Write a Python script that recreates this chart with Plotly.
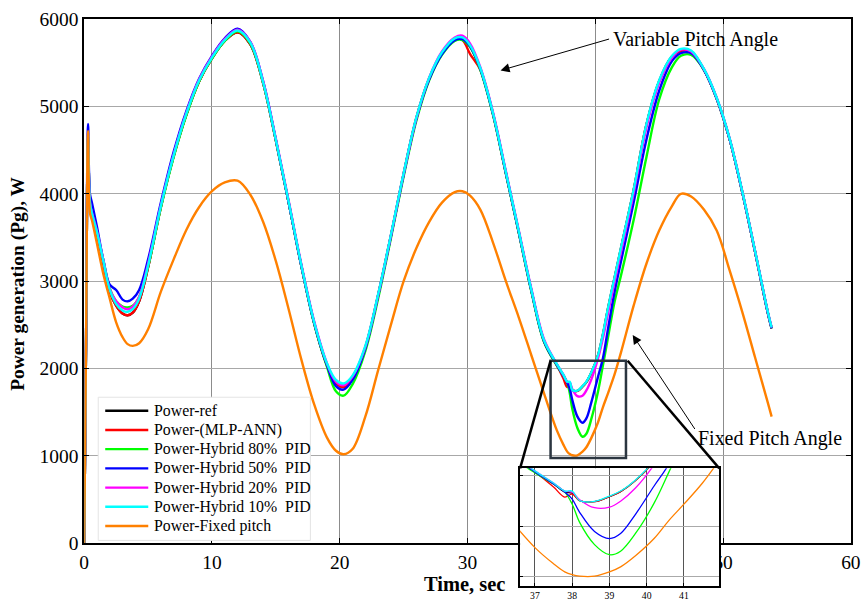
import plotly.graph_objects as go

# Time axis (s) shared by all series
time_s = [0, 0.15, 0.3, 0.45, 0.6, 1.0, 1.5, 2.0, 2.5, 3.0,
          3.4, 3.8, 4.3, 5, 6, 7, 8, 9, 10, 11,
          12, 13, 14, 15, 16, 17, 18, 19, 19.7, 20.3,
          21, 22, 23, 24, 25, 26, 27, 28, 29, 29.6,
          30.2, 31, 32, 33, 34, 35, 36, 37, 37.5, 37.8,
          38.0, 38.2, 38.6, 39.0, 39.3, 39.7, 40.2, 40.6, 41.0, 41.5,
          42, 43, 44, 45, 46, 46.7, 47.5, 48.5, 49.5, 50.5,
          51.5, 52.5, 53.5, 53.8]

# Generated power (W)
power_ref = [0, 2400, 4650, 3880, 3760, 3550, 3210, 2880, 2720, 2630,
             2610, 2640, 2770, 3160, 3850, 4430, 4910, 5290, 5550, 5750,
             5850, 5710, 5270, 4610, 3900, 3170, 2520, 2040, 1840, 1790,
             1890, 2240, 2840, 3520, 4230, 4870, 5320, 5610, 5770, 5770,
             5690, 5430, 4910, 4240, 3570, 2890, 2310, 2040, 1920, 1840,
             1830, 1755, 1745, 1795, 1845, 1955, 2145, 2390, 2690, 3030,
             3370, 4040, 4790, 5290, 5570, 5640, 5630, 5420, 5090, 4630,
             4020, 3340, 2640, 2460]

power_mlp_ann = [0, 2400, 4650, 3880, 3760, 3550, 3210, 2880, 2720, 2630,
                 2610, 2640, 2770, 3160, 3850, 4430, 4910, 5290, 5550, 5750,
                 5850, 5710, 5270, 4610, 3900, 3170, 2520, 2040, 1840, 1790,
                 1890, 2240, 2840, 3520, 4230, 4870, 5320, 5610, 5770, 5760,
                 5600, 5420, 4910, 4240, 3570, 2890, 2310, 2040, 1890, 1790,
                 1820, 1755, 1745, 1795, 1845, 1955, 2145, 2390, 2690, 3030,
                 3370, 4040, 4790, 5290, 5570, 5640, 5630, 5420, 5090, 4630,
                 4020, 3340, 2640, 2460]

power_hybrid_80 = [0, 2400, 4650, 3880, 3760, 3560, 3240, 2920, 2770, 2710,
                   2700, 2720, 2820, 3170, 3840, 4420, 4900, 5290, 5550, 5750,
                   5860, 5720, 5270, 4610, 3900, 3170, 2510, 2020, 1740, 1690,
                   1820, 2200, 2800, 3490, 4200, 4840, 5300, 5590, 5750, 5760,
                   5680, 5420, 4900, 4230, 3560, 2880, 2300, 2030, 1920, 1840,
                   1720, 1540, 1320, 1220, 1255, 1430, 1730, 2040, 2360, 2760,
                   3060, 3700, 4420, 5080, 5450, 5580, 5590, 5420, 5090, 4630,
                   4020, 3340, 2640, 2460]

power_hybrid_50 = [0, 2450, 4800, 4000, 3900, 3620, 3240, 2960, 2900, 2790,
                   2770, 2800, 2900, 3250, 3900, 4480, 4950, 5320, 5580, 5780,
                   5890, 5740, 5290, 4620, 3900, 3170, 2520, 2040, 1800, 1760,
                   1870, 2230, 2830, 3510, 4220, 4860, 5310, 5600, 5760, 5770,
                   5690, 5430, 4910, 4240, 3570, 2890, 2310, 2040, 1920, 1840,
                   1770, 1640, 1450, 1380, 1430, 1620, 1900, 2120, 2460, 2870,
                   3220, 3900, 4620, 5180, 5520, 5610, 5610, 5420, 5090, 4630,
                   4020, 3340, 2640, 2460]

power_hybrid_20 = [0, 2400, 4700, 3900, 3790, 3570, 3240, 2910, 2770, 2700,
                   2680, 2710, 2820, 3200, 3870, 4450, 4930, 5310, 5570, 5770,
                   5880, 5740, 5290, 4630, 3920, 3190, 2540, 2060, 1850, 1810,
                   1910, 2250, 2840, 3520, 4230, 4870, 5330, 5630, 5790, 5810,
                   5720, 5450, 4930, 4260, 3590, 2910, 2330, 2050, 1930, 1850,
                   1840, 1765, 1685, 1690, 1750, 1880, 2110, 2350, 2640, 2990,
                   3330, 4010, 4760, 5270, 5560, 5650, 5630, 5430, 5100, 4640,
                   4030, 3350, 2650, 2470]

power_hybrid_10 = [0, 2400, 4700, 3900, 3780, 3560, 3230, 2900, 2740, 2665,
                   2650, 2680, 2800, 3180, 3860, 4440, 4920, 5300, 5560, 5760,
                   5870, 5730, 5280, 4620, 3910, 3180, 2530, 2060, 1870, 1830,
                   1920, 2260, 2850, 3530, 4240, 4880, 5330, 5620, 5780, 5790,
                   5700, 5440, 4920, 4250, 3580, 2900, 2320, 2050, 1930, 1850,
                   1850, 1755, 1748, 1800, 1850, 1960, 2150, 2400, 2700, 3040,
                   3380, 4050, 4800, 5300, 5580, 5660, 5640, 5430, 5100, 4640,
                   4030, 3350, 2650, 2470]

power_fixed_pitch = [0, 2400, 4720, 3780, 3700, 3430, 3080, 2800, 2530, 2360,
                     2280, 2260, 2290, 2450, 2880, 3250, 3590, 3850, 4030, 4130,
                     4150, 3990, 3680, 3230, 2680, 2100, 1590, 1210, 1060, 1020,
                     1080, 1450, 1980, 2500, 3000, 3380, 3680, 3900, 4020, 4030,
                     3980, 3820, 3440, 3000, 2590, 2150, 1710, 1290, 1130, 1050,
                     1022, 1008, 1008, 1050, 1100, 1210, 1380, 1560, 1720, 1930,
                     2180, 2720, 3200, 3580, 3860, 4000, 3970, 3820, 3580, 3130,
                     2650, 2130, 1610, 1450]

series_names = ["Power-ref", "Power-(MLP-ANN)", "Power-Hybrid 80%\u00a0 PID",
                "Power-Hybrid 50%\u00a0 PID", "Power-Hybrid 20%\u00a0 PID",
                "Power-Hybrid 10%\u00a0 PID", "Power-Fixed pitch"]
series_values = [power_ref, power_mlp_ann, power_hybrid_80, power_hybrid_50,
                 power_hybrid_20, power_hybrid_10, power_fixed_pitch]
series_colors = ["#000000", "#ff0000", "#00ff00", "#0000ff",
                 "#ff00ff", "#00ffff", "#ff8000"]

# Zoomed window shown in the inset
inset_x_range = [36.6, 41.95]
inset_y_range = [912, 2075]
inset_xticks = [37, 38, 39, 40, 41, 42]
inset_ygrid = [1000, 1500, 2000]

FONT = "Liberation Serif, Times New Roman, serif"
W, H = 862, 601

# Layout positions below are screen pixels of the final page view; the page
# keeps its default 8px body margin, so map them back onto the figure.
MARGIN = 8
SX = W / (W + 2 * MARGIN)
SY = H / (H + 2 * MARGIN)
FS = (SX + SY) / 2


def px(x):
    return min(1.0, max(0.0, (x / SX - MARGIN) / W))


def py(y):
    return min(1.0, max(0.0, 1 - (y / SY - MARGIN) / H))


def fs(size):
    return size / FS


# Screen boxes of the main plot and the inset
main_l, main_r, main_t, main_b = 87, 853, 17, 548
ins_l, ins_r, ins_t, ins_b = 522.5, 721.5, 472, 591

fig = go.Figure()

for name, vals, col in zip(series_names, series_values, series_colors):
    fig.add_trace(go.Scatter(
        x=time_s, y=vals, name=name, mode="lines", showlegend=False,
        line=dict(color=col, width=2.4, shape="spline", smoothing=1.0),
        xaxis="x", yaxis="y"))

for name, vals, col in zip(series_names, series_values, series_colors):
    fig.add_trace(go.Scatter(
        x=time_s, y=vals, name=name, mode="lines", showlegend=False,
        line=dict(color=col, width=1.3, shape="spline", smoothing=1.0),
        xaxis="x2", yaxis="y2"))

axis_common = dict(showline=True, linecolor="black", ticks="inside",
                   tickcolor="black", zeroline=False, ticklabeloverflow="allow")

fig.update_layout(
    width=W, height=H,
    margin=dict(l=0, r=0, t=0, b=0),
    paper_bgcolor="white", plot_bgcolor="white",
    font=dict(family=FONT, color="black"),
    showlegend=False,
    xaxis=dict(domain=[px(main_l), px(main_r)], range=[0, 60], dtick=10, tick0=0,
               showgrid=True, gridcolor="#8c8c8c", gridwidth=1,
               linewidth=1.8, mirror="allticks", ticklen=5,
               tickfont=dict(size=fs(19)), anchor="y", **axis_common),
    yaxis=dict(domain=[py(main_b), py(main_t)], range=[0, 6000], dtick=1000,
               tick0=0, showgrid=True, gridcolor="#a8a8a8", gridwidth=1.2,
               linewidth=1.8, mirror="allticks", ticklen=5,
               tickfont=dict(size=fs(19)), anchor="x", **axis_common),
    xaxis2=dict(domain=[px(ins_l), px(ins_r)], range=inset_x_range,
                tickvals=inset_xticks, showgrid=True, gridcolor="#555555",
                gridwidth=1, linewidth=2, mirror=True, ticklen=3,
                tickfont=dict(size=fs(9.5)), anchor="y2", **axis_common),
    yaxis2=dict(domain=[py(ins_b), py(ins_t)], range=inset_y_range,
                tickvals=inset_ygrid, showticklabels=False, showgrid=True,
                gridcolor="#aaaaaa", gridwidth=1, linewidth=2, mirror=True,
                ticklen=3, anchor="x2", **axis_common),
)

# Zoom window marker and the connectors to the inset
fig.add_shape(type="rect", xref="x", yref="y", x0=36.5, x1=42.4, y0=977, y1=2090,
              line=dict(color="#2b3540", width=2.5))
fig.add_shape(type="line", xref="paper", yref="paper",
              x0=px(553), y0=py(363), x1=px(ins_l), y1=py(ins_t),
              line=dict(color="black", width=2.5))
fig.add_shape(type="line", xref="paper", yref="paper",
              x0=px(630), y0=py(363), x1=px(ins_r), y1=py(ins_t),
              line=dict(color="black", width=2.5))

# Legend box: white panel, line samples and labels
legend_left, legend_top, legend_right, legend_bottom = 101, 400, 313, 545
legend_row0, legend_step = 413.7, 19.45
fig.add_shape(type="rect", xref="paper", yref="paper", layer="above",
              x0=px(legend_left), x1=px(legend_right),
              y0=py(legend_bottom), y1=py(legend_top),
              fillcolor="white", line=dict(color="#e4e4e4", width=1))
for i, (name, col) in enumerate(zip(series_names, series_colors)):
    yrow = legend_row0 + i * legend_step
    fig.add_shape(type="line", xref="paper", yref="paper", layer="above",
                  x0=px(108), x1=px(151), y0=py(yrow), y1=py(yrow),
                  line=dict(color=col, width=2.4))
    fig.add_annotation(xref="paper", yref="paper", x=px(155), y=py(yrow),
                       xanchor="left", yanchor="middle", text=name,
                       showarrow=False, font=dict(family=FONT, size=fs(15.5)))

# Axis titles
fig.add_annotation(xref="paper", yref="paper", x=px(21), y=py(285),
                   xanchor="center", yanchor="middle",
                   text="<b>Power generation (Pg), W</b>", textangle=-90,
                   showarrow=False, font=dict(family=FONT, size=fs(19)))
fig.add_annotation(xref="paper", yref="paper", x=px(467), y=py(589),
                   xanchor="center", yanchor="middle",
                   text="<b>Time, sec</b>", showarrow=False,
                   font=dict(family=FONT, size=fs(20)))

# Callouts
fig.add_annotation(xref="paper", yref="paper", x=px(698), y=py(38),
                   xanchor="center", yanchor="middle",
                   text="Variable Pitch Angle", showarrow=False,
                   font=dict(family=FONT, size=fs(19.5)))
fig.add_annotation(xref="paper", yref="paper", x=px(503), y=py(69),
                   ax=(611 - 503) / SX, ay=(38 - 69) / SY, text="",
                   showarrow=True, arrowhead=2, arrowsize=1.8,
                   arrowwidth=1, arrowcolor="black")
fig.add_annotation(xref="paper", yref="paper", x=px(772), y=py(442),
                   xanchor="center", yanchor="middle",
                   text="Fixed Pitch Angle", showarrow=False,
                   font=dict(family=FONT, size=fs(19.5)))
fig.add_annotation(xref="paper", yref="paper", x=px(635), y=py(337),
                   ax=(697 - 635) / SX, ay=(430 - 337) / SY, text="",
                   showarrow=True, arrowhead=2, arrowsize=1.8,
                   arrowwidth=1, arrowcolor="black")

fig.write_html("out.html")
